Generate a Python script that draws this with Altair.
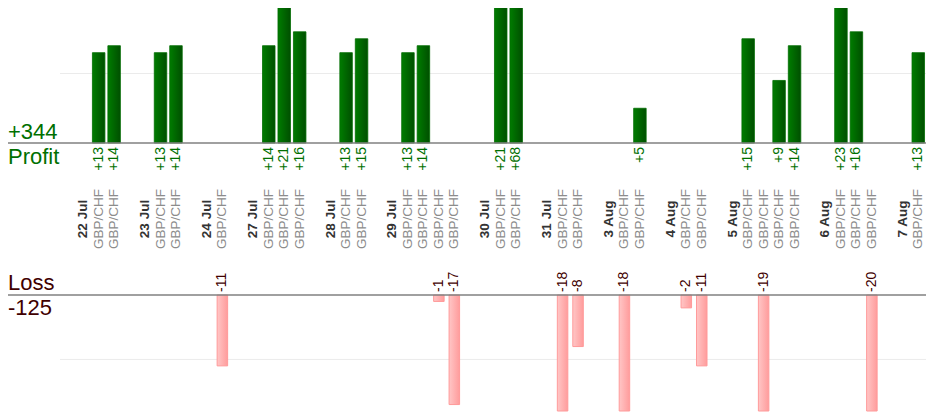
import altair as alt
import pandas as pd

# ---- data ----
dates = ["22 Jul", "23 Jul", "24 Jul", "27 Jul", "28 Jul", "29 Jul", "30 Jul",
         "31 Jul", "3 Aug", "4 Aug", "5 Aug", "6 Aug", "7 Aug"]
trades_per_date = [2, 2, 1, 3, 2, 4, 2, 2, 2, 2, 4, 3, 1]
pair = "GBP/CHF"
results = [13, 14,
           13, 14,
           -11,
           14, 21, 16,
           13, 15,
           13, 14, -1, -17,
           21, 68,
           -18, -8,
           -18, 5,
           -2, -11,
           15, -19, 9, 14,
           23, 16, -20,
           13]

# ---- build slot table: gap, date, trades... per day ----
rows = []
slot = 0
k = 0
for d, n in zip(dates, trades_per_date):
    rows.append(dict(slot=slot, kind="gap", label="", value=0, text=""))
    slot += 1
    rows.append(dict(slot=slot, kind="date", label=d, value=0, text=""))
    slot += 1
    for _ in range(n):
        v = results[k]
        k += 1
        rows.append(dict(slot=slot, kind="trade", label=pair, value=v,
                         text=(f"+{v}" if v > 0 else f"{v}")))
        slot += 1
df = pd.DataFrame(rows)
N = len(df)

profit_df = df[(df.kind == "trade") & (df.value > 0)]
loss_df = df[(df.kind == "trade") & (df.value < 0)]
date_df = df[df.kind == "date"]
pair_df = df[df.kind == "trade"]

profit_total = int(profit_df.value.sum())
loss_total = int(loss_df.value.sum())

FONT = "Liberation Sans"
W = 866
H = 404
LEFT = 52

xenc = alt.X("slot:O", scale=alt.Scale(domain=list(range(N)), paddingInner=0, paddingOuter=0), axis=None)


def pscale():
    return alt.Scale(domain=[0, 20], range=[135, -4], clamp=True)


def lscale():
    return alt.Scale(domain=[-18, 0], range=[403, 287], clamp=True)


green = alt.Gradient(gradient="linear",
                     stops=[alt.GradientStop(color="#007c00", offset=0),
                            alt.GradientStop(color="#004f00", offset=1)],
                     x1=0, x2=1, y1=0, y2=0)
pink = alt.Gradient(gradient="linear",
                    stops=[alt.GradientStop(color="#ffc6c6", offset=0),
                           alt.GradientStop(color="#ff9c9c", offset=1)],
                    x1=0, x2=1, y1=0, y2=0)

grid_p = alt.Chart(pd.DataFrame({"v": [10, 19.5]})).mark_rule(color="#ebebeb", strokeWidth=1).encode(
    y=alt.Y("v:Q", scale=pscale(), axis=None), x=alt.value(0), x2=alt.value(W))
grid_l = alt.Chart(pd.DataFrame({"v": [-10]})).mark_rule(color="#ebebeb", strokeWidth=1).encode(
    y=alt.Y("v:Q", scale=lscale(), axis=None), x=alt.value(0), x2=alt.value(W))

bars_p = alt.Chart(profit_df).mark_bar(size=12.5, fill=green, stroke="#006c00", strokeWidth=0.8).encode(
    x=xenc, y=alt.Y("value:Q", scale=pscale(), axis=None))
bars_l = alt.Chart(loss_df).mark_bar(size=10.5, fill=pink, stroke="#ff9a9a", strokeWidth=1).encode(
    x=xenc, y=alt.Y("value:Q", scale=lscale(), axis=None))

base_p = alt.Chart(pd.DataFrame({"v": [0]})).mark_rule(color="#808080", strokeWidth=1.5).encode(
    y=alt.Y("v:Q", scale=pscale(), axis=None), x=alt.value(-LEFT), x2=alt.value(W))
base_l = alt.Chart(pd.DataFrame({"v": [0]})).mark_rule(color="#808080", strokeWidth=1.5).encode(
    y=alt.Y("v:Q", scale=lscale(), axis=None), x=alt.value(-LEFT), x2=alt.value(W))

txt_p = alt.Chart(profit_df).mark_text(angle=270, align="right", baseline="middle", dx=-4,
                                       fontSize=14, font=FONT, color="#007000").encode(
    x=xenc, y=alt.YDatum(0, scale=pscale(), axis=None), text="text:N")
txt_l = alt.Chart(loss_df).mark_text(angle=270, align="left", baseline="middle", dx=3,
                                     fontSize=14, font=FONT, color="#3f0000").encode(
    x=xenc, y=alt.YDatum(0, scale=lscale(), axis=None), text="text:N")

lab_d = alt.Chart(date_df).mark_text(angle=270, align="center", baseline="middle", fontSize=13.5,
                                     fontWeight="bold", font=FONT, color="#333333").encode(
    x=xenc, y=alt.value(211), text="label:N")
lab_t = alt.Chart(pair_df).mark_text(angle=270, align="center", baseline="middle", fontSize=13.5,
                                     font=FONT, color="#8c8c8c").encode(
    x=xenc, y=alt.value(211), text="label:N")

side = pd.DataFrame({
    "t": [f"+{profit_total}", "Profit", "Loss", f"{loss_total}"],
})
side_p1 = alt.Chart(side.iloc[[0]]).mark_text(align="left", baseline="alphabetic", fontSize=22, font=FONT,
                                              color="#007000").encode(x=alt.value(-LEFT), y=alt.value(131), text="t:N")
side_p2 = alt.Chart(side.iloc[[1]]).mark_text(align="left", baseline="alphabetic", fontSize=22, font=FONT,
                                              color="#007000").encode(x=alt.value(-LEFT), y=alt.value(156), text="t:N")
side_l1 = alt.Chart(side.iloc[[2]]).mark_text(align="left", baseline="alphabetic", fontSize=22, font=FONT,
                                              color="#3f0000").encode(x=alt.value(-LEFT), y=alt.value(282), text="t:N")
side_l2 = alt.Chart(side.iloc[[3]]).mark_text(align="left", baseline="alphabetic", fontSize=22, font=FONT,
                                              color="#3f0000").encode(x=alt.value(-LEFT), y=alt.value(307), text="t:N")

chart = alt.layer(
    grid_p, grid_l, bars_p, bars_l, base_p, base_l, txt_p, txt_l, lab_d, lab_t,
    side_p1, side_p2, side_l1, side_l2
).resolve_scale(y="independent").properties(
    width=W, height=H,
    autosize=alt.AutoSizeParams(type="none"),
    padding={"left": LEFT, "top": 0, "right": 0, "bottom": 0},
    background="white",
).configure_view(stroke=None)

chart.save("out.html", embed_options={"renderer": "svg", "actions": False})
